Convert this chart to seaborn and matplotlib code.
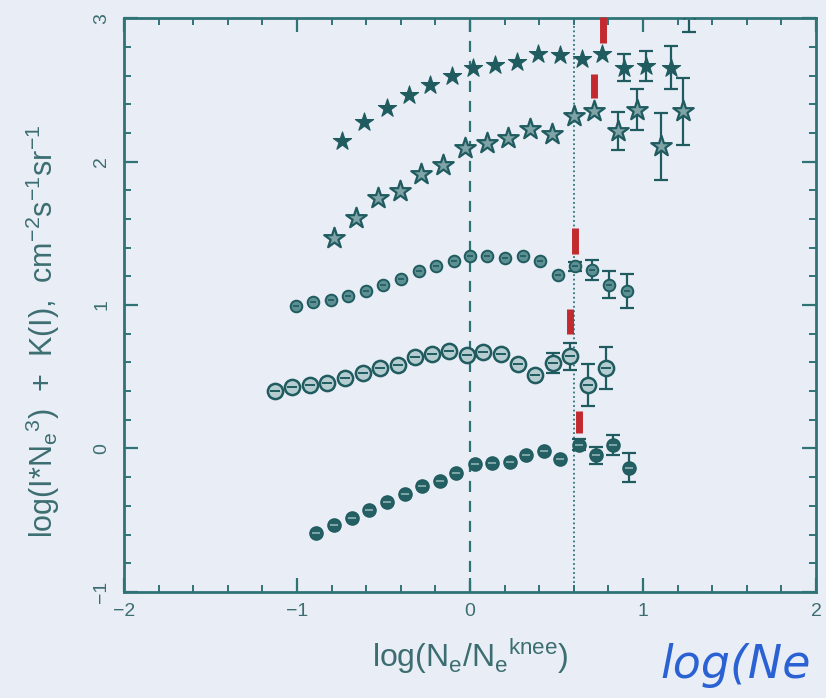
import numpy as np
import pandas as pd
import matplotlib
matplotlib.use("Agg")
import matplotlib.pyplot as plt
from matplotlib.ticker import MultipleLocator
import seaborn as sns

# ---- data: log(Ne/Ne_knee) vs log(I*Ne^3)+K(I) for five groups ----
nan = np.nan

s1_x = [-0.74, -0.61, -0.48, -0.355, -0.23, -0.105, 0.02, 0.145, 0.27, 0.395,
        0.52, 0.645, 0.765, 0.89, 1.015, 1.16, 1.265]
s1_y = [2.147, 2.277, 2.375, 2.464, 2.533, 2.594, 2.654, 2.673, 2.696, 2.747,
        2.742, 2.718, 2.747, 2.654, 2.666, 2.654, 3.05]
s1_e = [nan] * 13 + [0.093, 0.105, 0.15, 0.15]

s2_x = [-0.785, -0.659, -0.533, -0.407, -0.281, -0.155, -0.029, 0.097, 0.219,
        0.345, 0.475, 0.601, 0.717, 0.853, 0.963, 1.105, 1.231]
s2_y = [1.468, 1.607, 1.747, 1.793, 1.914, 1.975, 2.096, 2.131, 2.166, 2.224,
        2.193, 2.317, 2.351, 2.212, 2.363, 2.107, 2.352]
s2_e = [nan] * 13 + [0.134, 0.14, 0.233, 0.233]

s3_x = [-1.008, -0.907, -0.804, -0.703, -0.601, -0.5, -0.397, -0.297, -0.194,
        -0.093, 0.0, 0.101, 0.203, 0.306, 0.407, 0.508, 0.605, 0.707, 0.804, 0.907]
s3_y = [0.991, 1.021, 1.038, 1.061, 1.096, 1.137, 1.184, 1.235, 1.270, 1.310,
        1.340, 1.340, 1.330, 1.345, 1.31, 1.212, 1.270, 1.247, 1.142, 1.096]
s3_e = [nan] * 16 + [0.03, 0.07, 0.093, 0.118]

s4_x = [-1.124, -1.027, -0.926, -0.824, -0.723, -0.620, -0.519, -0.417, -0.320,
        -0.217, -0.120, -0.019, 0.077, 0.178, 0.276, 0.378, 0.481, 0.577, 0.682, 0.785]
s4_y = [0.398, 0.426, 0.440, 0.456, 0.491, 0.526, 0.560, 0.584, 0.635, 0.658,
        0.677, 0.654, 0.672, 0.656, 0.586, 0.512, 0.595, 0.642, 0.444, 0.560]
s4_e = [nan] * 16 + [0.07, 0.093, 0.146, 0.145]

s5_x = [-0.888, -0.785, -0.682, -0.581, -0.481, -0.378, -0.275, -0.174, -0.078,
        0.029, 0.126, 0.229, 0.326, 0.426, 0.523, 0.630, 0.727, 0.824, 0.920]
s5_y = [-0.591, -0.533, -0.486, -0.428, -0.370, -0.319, -0.265, -0.226, -0.172,
        -0.109, -0.102, -0.091, -0.049, -0.016, -0.072, 0.026, -0.049, 0.026, -0.133]
s5_e = [nan] * 15 + [0.04, 0.058, 0.07, 0.1]

# knee markers (red bars) above each group
knee_x = [0.766, 0.717, 0.605, 0.576, 0.628]
knee_lo = [2.83, 2.44, 1.354, 0.796, 0.105]
knee_hi = [3.01, 2.61, 1.537, 0.970, 0.258]

ref_dashed_x = 0.0
ref_dotted_x = 0.6

# ---- style ----
BG = "#e9eef6"
INK = "#1f5b5f"
SPINE = "#2f7377"
TXT = "#3c6e71"

sns.set_theme(style="ticks")
plt.rcParams["font.family"] = ["Liberation Sans", "DejaVu Sans"]
plt.rcParams["mathtext.fontset"] = "custom"
plt.rcParams["mathtext.rm"] = "Liberation Sans"

fig = plt.figure(figsize=(8.26, 6.98), dpi=100, facecolor=BG)
ax = fig.add_axes([0.150, 0.152, 0.838, 0.822])
ax.set_facecolor(BG)

ax.set_xlim(-2, 2)
ax.set_ylim(-1, 3)

# reference lines
ax.axvline(ref_dashed_x, color=SPINE, lw=1.6, ls=(0, (5, 4)), zorder=1)
ax.axvline(ref_dotted_x, color=SPINE, lw=1.3, ls=(0, (1, 1.5)), zorder=1)

def frame(x, y, e):
    return pd.DataFrame({"x": x, "y": y, "e": e})

d1, d2, d3, d4, d5 = (frame(s1_x, s1_y, s1_e), frame(s2_x, s2_y, s2_e),
                      frame(s3_x, s3_y, s3_e), frame(s4_x, s4_y, s4_e),
                      frame(s5_x, s5_y, s5_e))

# error bars
for d in (d1, d2, d3, d4, d5):
    m = d["e"].notna()
    ax.errorbar(d.loc[m, "x"], d.loc[m, "y"], yerr=d.loc[m, "e"], fmt="none",
                ecolor=INK, elinewidth=1.6, capsize=5, capthick=1.6, zorder=2)

# filled stars
sns.scatterplot(data=d1, x="x", y="y", ax=ax, marker="*", s=190,
                color=INK, edgecolor=INK, linewidth=0.8, zorder=3)
# open stars
sns.scatterplot(data=d2, x="x", y="y", ax=ax, marker="*", s=240,
                facecolor="#7fa3a6", edgecolor=INK, linewidth=1.6, zorder=3)
# small barred circles
sns.scatterplot(data=d3, x="x", y="y", ax=ax, marker="o", s=70,
                facecolor="#5d9093", edgecolor=INK, linewidth=1.4, zorder=3)
sns.scatterplot(data=d3, x="x", y="y", ax=ax, marker="_", s=22,
                color=INK, linewidth=1.2, zorder=4)
# larger barred open circles
sns.scatterplot(data=d4, x="x", y="y", ax=ax, marker="o", s=120,
                facecolor="#b5cdd0", edgecolor=INK, linewidth=1.8, zorder=3)
sns.scatterplot(data=d4, x="x", y="y", ax=ax, marker="_", s=50,
                color=INK, linewidth=1.4, zorder=4)
# filled ellipse-like markers
sns.scatterplot(data=d5, x="x", y="y", ax=ax, marker="o", s=90,
                facecolor="#245f63", edgecolor=INK, linewidth=1.0, zorder=3)
sns.scatterplot(data=d5, x="x", y="y", ax=ax, marker="_", s=30,
                color="#8fb3b5", linewidth=1.2, zorder=4)

# knee markers
ax.vlines(knee_x, knee_lo, knee_hi, colors="#c22a30", lw=5.0, zorder=5,
          clip_on=False)

# axes frame and ticks
for sp in ax.spines.values():
    sp.set_color(SPINE)
    sp.set_linewidth(2.0)
ax.xaxis.set_major_locator(MultipleLocator(1))
ax.xaxis.set_minor_locator(MultipleLocator(0.2))
ax.yaxis.set_major_locator(MultipleLocator(1))
ax.yaxis.set_minor_locator(MultipleLocator(0.2))
ax.tick_params(which="both", direction="in", top=True, right=True,
               color=SPINE, labelcolor=TXT, labelsize=14)
ax.tick_params(which="major", length=10, width=1.6)
ax.tick_params(which="minor", length=5, width=1.4)
ax.tick_params(axis="x", pad=8)
ax.tick_params(axis="y", pad=10)

ax.set_xticks([-2, -1, 0, 1, 2])
ax.set_xticklabels(["\u22122", "\u22121", "0", "1", "2"])
ax.set_yticks([-1, 0, 1, 2, 3])
ax.set_yticklabels(["\u22121", "0", "1", "2", "3"], rotation=90, va="center")

ax.set_xlabel(r"log(N$_\mathrm{e}$/N$_\mathrm{e}$$^\mathrm{knee}$)",
              fontsize=23, color=TXT, labelpad=12)
ax.set_ylabel(r"log(I$*$N$_\mathrm{e}$$^\mathrm{3}$)  +  K(I),  "
              r"cm$^\mathrm{-2}$s$^\mathrm{-1}$sr$^\mathrm{-1}$",
              fontsize=22, color=TXT)
ax.yaxis.set_label_coords(-0.09, 0.455)

# handwritten annotation at the lower right
fig.text(0.80, 0.028, "log(Ne", fontsize=33, color="#2a62d4",
         family="DejaVu Sans", style="oblique", fontweight="light")

fig.savefig("out.png", dpi=100, facecolor=BG)
